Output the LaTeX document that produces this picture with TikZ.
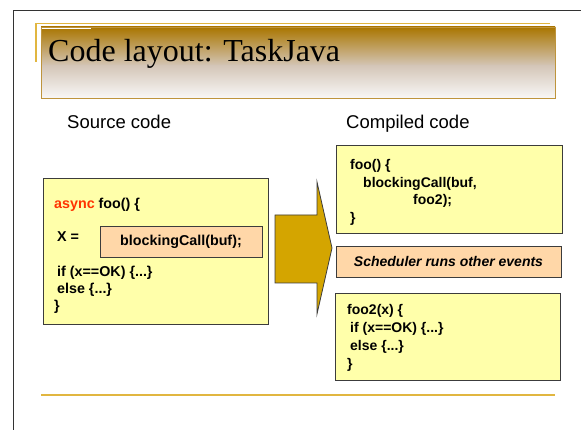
\documentclass[tikz,border=0pt]{standalone}
\usepackage{fontspec}
\setmainfont{Liberation Sans}
\newfontfamily\titlefont{Liberation Serif}

\definecolor{codeyellow}{RGB}{255,255,170}
\definecolor{callpeach}{RGB}{255,215,168}
\definecolor{arrowgold}{RGB}{212,165,0}
\definecolor{boxline}{RGB}{60,60,60}
\definecolor{goldline}{RGB}{225,182,64}
\definecolor{titletop}{RGB}{170,118,0}
\definecolor{titlemid}{RGB}{212,198,184}
\definecolor{titlelow}{RGB}{248,247,246}
\definecolor{titleedge}{RGB}{190,148,60}
\definecolor{keyred}{RGB}{255,51,0}

\begin{document}
\begin{tikzpicture}[x=1pt, y=-1pt,
            codebox/.style={draw=boxline, fill=codeyellow, line width=0.8pt},
            callbox/.style={draw=boxline, fill=callpeach, line width=0.8pt},
            code/.style={anchor=base west, inner sep=0pt, font=\fontsize{14.3}{16}\selectfont\bfseries},
            rcode/.style={anchor=base west, inner sep=0pt, font=\fontsize{14}{16}\selectfont\bfseries},
            heading/.style={anchor=base west, inner sep=0pt, font=\fontsize{18.5}{22}\selectfont}]
    \useasboundingbox (0,0) rectangle (581,430);

    % slide frame and title bar
    \draw[line width=1pt, black!80] (13,430) -- (13,11) -- (581,11);
    \draw[line width=1.4pt, goldline] (36,62) -- (36,23.5) -- (550,23.5);
    \shade[top color=titletop, bottom color=titlemid] (41,27) rectangle (555,66);
    \shade[top color=titlemid, bottom color=titlelow] (41,65.5) rectangle (555,98);
    \draw[line width=0.9pt, titleedge] (41,27) rectangle (555,98);
    \draw[line width=0.8pt, white] (41.5,28) -- (91,28);
    \node[anchor=base west, inner sep=0pt, font=\titlefont\fontsize{32}{36}\selectfont] (title) at (48,62) {Code layout: TaskJava};
    \draw[line width=1.4pt, goldline] (41,395) -- (555,395);

    \node[heading] (srchead) at (67,129) {Source code};
    \node[heading] (cmphead) at (346,129) {Compiled code};

    % source side
    \node[codebox, minimum width=225pt, minimum height=146pt] (src) at (155.5,251) {};
    \node[code] (l1) at (54,209) {\textcolor{keyred}{async} foo() \{};
    \node[code] (l2) at (57,242) {X =};
    \node[callbox, minimum width=162pt, minimum height=31pt, font=\fontsize{14.3}{16}\selectfont\bfseries] (call) at (181,241.5) {blockingCall(buf);};
    \node[code] (l3) at (57,277) {if (x==OK) \{...\}};
    \node[code] (l4) at (57,294) {else \{...\}};
    \node[code] (l5) at (54,311) {\}};

    % the big arrow
    \draw[boxline, line width=0.8pt, fill=arrowgold] (275,215) -- (317,215) -- (317,182) -- (332,248)
        -- (317,314) -- (317,283) -- (275,283) -- cycle;

    % compiled side
    \node[codebox, minimum width=226pt, minimum height=88pt] (foo) at (449,189) {};
    \node[rcode] (f1) at (350,170) {foo() \{};
    \node[rcode] (f2) at (363,188) {blockingCall(buf,};
    \node[rcode] (f3) at (413,205) {foo2);};
    \node[rcode] (f4) at (350,223) {\}};

    \node[callbox, minimum width=225pt, minimum height=31pt, font=\fontsize{14}{16}\selectfont\bfseries\itshape] (sched) at (448.5,261.5) {Scheduler runs other events};

    \node[codebox, minimum width=225pt, minimum height=87pt] (foo2) at (447.5,336.5) {};
    \node[rcode] (g1) at (347,315) {foo2(x) \{};
    \node[rcode] (g2) at (350,333) {if (x==OK) \{...\}};
    \node[rcode] (g3) at (350,350) {else \{...\}};
    \node[rcode] (g4) at (347,368) {\}};
\end{tikzpicture}
\end{document}
